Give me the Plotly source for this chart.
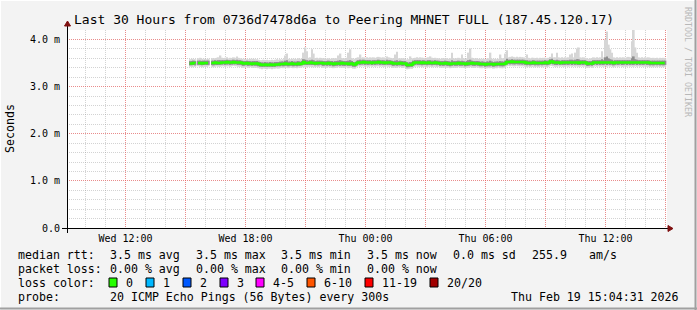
import plotly.graph_objects as go
import pandas as pd

# ---------------- data ----------------
TITLE = "Last 30 Hours from 0736d7478d6a to Peering MHNET FULL (187.45.120.17)"
range_start = "2026-02-18 09:04:31"
range_end = "2026-02-19 15:04:31"
first_sample = "2026-02-18 15:15:00"

median_ms = [
    3.49,3.49,3.50,3.49,None,3.50,3.50,3.49,3.50,3.50,
    3.50,3.50,None,3.50,3.50,3.51,3.50,3.50,3.50,3.51,
    3.51,3.51,3.52,3.51,3.51,3.51,3.52,3.51,3.51,3.51,
    3.51,3.50,3.49,3.49,3.50,3.49,3.49,3.48,3.49,3.49,
    3.49,3.48,3.47,3.46,3.46,3.47,3.46,3.46,3.47,3.46,
    3.46,3.47,3.47,3.47,3.48,3.48,3.48,3.49,3.48,3.48,
    3.48,3.49,3.48,3.48,3.48,3.49,3.48,3.49,3.52,3.50,
    3.50,3.50,3.51,3.50,3.50,3.49,3.50,3.50,3.50,3.50,
    3.49,3.49,3.49,3.50,3.49,3.49,3.48,3.49,3.49,3.49,
    3.49,3.50,3.49,3.49,3.49,3.48,3.49,3.49,3.47,3.47,
    3.50,3.51,3.51,3.51,3.52,3.51,3.51,3.51,3.51,3.50,
    3.51,3.51,3.51,3.52,3.51,3.51,3.51,3.50,3.51,3.51,
    3.51,3.50,3.49,3.49,3.49,3.49,3.50,3.49,3.49,3.49,
    3.46,3.46,3.46,3.47,3.50,3.51,3.51,3.51,3.51,3.50,
    3.51,3.50,3.50,3.51,3.50,3.50,3.50,3.51,3.50,3.50,
    3.49,3.49,3.49,3.50,3.49,3.49,3.48,3.49,3.49,3.49,
    3.49,3.50,3.49,3.49,3.49,3.48,3.49,3.49,3.49,3.50,
    3.49,3.49,3.49,3.49,3.48,3.48,3.48,3.47,3.48,3.48,
    3.48,3.48,3.47,3.48,3.48,3.48,3.48,3.48,3.48,3.49,
    3.52,3.52,3.52,3.53,3.52,3.52,3.52,3.52,3.52,3.52,
    3.52,3.51,3.50,3.50,3.50,3.50,3.51,3.50,3.50,3.50,
    3.50,3.50,3.50,3.51,3.50,3.50,3.53,3.53,3.51,3.51,
    3.51,3.51,3.50,3.51,3.51,3.51,3.51,3.51,3.51,3.51,
    3.51,3.51,3.51,3.50,3.51,3.51,3.51,3.51,3.49,3.49,
    3.49,3.49,3.51,3.51,3.51,3.51,3.51,3.51,3.51,3.51,
    3.51,3.51,3.51,3.51,3.50,3.51,3.51,3.51,3.51,3.51,
    3.51,3.51,3.51,3.51,3.51,3.51,3.51,3.51,3.51,3.51,
    3.51,3.51,3.51,3.51,3.51,3.51,3.50,3.50,3.50,3.50,
    3.50,3.50,3.50,3.50,3.50,3.50,
]

smoke_max_ms = [
    3.58,3.59,3.58,3.58,None,3.60,3.61,3.59,3.58,3.59,
    3.58,3.59,None,3.60,3.59,3.60,3.61,3.62,3.66,3.61,
    3.60,3.61,3.62,3.60,3.61,3.60,3.62,3.61,3.64,3.61,
    3.60,3.59,3.58,3.59,3.58,3.58,3.59,3.58,3.59,3.58,
    3.58,3.57,3.56,3.56,3.57,3.56,3.57,3.56,3.56,3.57,
    3.56,3.57,3.58,3.57,3.58,3.57,3.58,3.66,3.70,3.59,
    3.58,3.59,3.58,3.59,3.58,3.60,3.59,3.60,3.72,3.83,
    3.75,3.61,3.62,3.79,3.70,3.60,3.61,3.60,3.61,3.60,
    3.59,3.60,3.59,3.60,3.59,3.60,3.59,3.60,3.60,3.66,
    3.70,3.60,3.59,3.60,3.61,3.72,3.79,3.60,3.58,3.59,
    3.61,3.62,3.68,3.61,3.62,3.61,3.62,3.61,3.62,3.61,
    3.62,3.61,3.62,3.63,3.62,3.61,3.62,3.61,3.64,3.62,
    3.61,3.60,3.59,3.68,3.74,3.60,3.60,3.59,3.60,3.59,
    3.57,3.58,3.64,3.58,3.60,3.61,3.62,3.61,3.62,3.61,
    3.61,3.60,3.61,3.62,3.64,3.61,3.60,3.61,3.60,3.60,
    3.59,3.60,3.59,3.60,3.60,3.59,3.60,3.72,3.60,3.59,
    3.60,3.61,3.60,3.68,3.60,3.59,3.60,3.72,3.81,3.61,
    3.60,3.59,3.60,3.59,3.59,3.58,3.59,3.58,3.59,3.60,
    3.72,3.59,3.58,3.59,3.58,3.59,3.68,3.59,3.60,3.70,
    3.77,3.62,3.63,3.64,3.63,3.62,3.63,3.62,3.63,3.62,
    3.62,3.61,3.68,3.61,3.60,3.61,3.61,3.60,3.61,3.60,
    3.61,3.60,3.61,3.61,3.60,3.61,3.63,3.70,3.62,3.62,
    3.72,3.62,3.61,3.62,3.61,3.62,3.61,3.62,3.68,3.70,
    3.62,3.72,3.81,3.83,3.62,3.61,3.62,3.61,3.60,3.59,
    3.60,3.60,3.62,3.61,3.62,3.61,3.62,3.75,3.62,4.00,
    4.17,3.89,3.79,3.72,3.62,3.61,3.62,3.61,3.62,3.61,
    3.62,3.61,3.62,3.63,3.62,3.96,4.21,3.83,3.72,3.62,
    3.61,3.62,3.61,3.62,3.61,3.62,3.61,3.60,3.61,3.60,
    3.61,3.60,3.61,3.60,3.61,3.60,
]

smoke_min_ms = [
    3.42,3.41,3.42,3.42,None,3.43,3.42,3.41,3.42,3.42,
    3.42,3.43,None,3.42,3.41,3.42,3.43,3.42,3.42,3.43,
    3.43,3.42,3.43,3.43,3.42,3.43,3.44,3.43,3.43,3.42,
    3.42,3.41,3.40,3.41,3.41,3.40,3.41,3.40,3.41,3.40,
    3.40,3.39,3.38,3.37,3.38,3.38,3.37,3.38,3.38,3.37,
    3.38,3.38,3.39,3.38,3.39,3.40,3.39,3.40,3.40,3.39,
    3.40,3.40,3.39,3.40,3.39,3.40,3.40,3.41,3.42,3.41,
    3.41,3.42,3.42,3.41,3.42,3.41,3.42,3.41,3.42,3.41,
    3.40,3.41,3.40,3.41,3.40,3.41,3.39,3.40,3.40,3.41,
    3.40,3.41,3.40,3.40,3.41,3.39,3.40,3.40,3.38,3.38,
    3.42,3.43,3.42,3.43,3.43,3.42,3.43,3.42,3.43,3.42,
    3.43,3.42,3.43,3.43,3.42,3.43,3.42,3.42,3.43,3.42,
    3.42,3.41,3.40,3.41,3.40,3.41,3.41,3.40,3.40,3.41,
    3.37,3.37,3.38,3.38,3.41,3.42,3.43,3.42,3.42,3.41,
    3.42,3.42,3.41,3.42,3.42,3.41,3.42,3.42,3.41,3.42,
    3.40,3.41,3.40,3.41,3.40,3.40,3.39,3.40,3.41,3.40,
    3.40,3.41,3.40,3.40,3.41,3.39,3.40,3.40,3.41,3.41,
    3.40,3.40,3.41,3.40,3.39,3.39,3.40,3.38,3.39,3.39,
    3.39,3.40,3.38,3.39,3.39,3.40,3.39,3.39,3.39,3.41,
    3.43,3.44,3.43,3.44,3.43,3.43,3.44,3.43,3.43,3.43,
    3.43,3.42,3.41,3.42,3.41,3.42,3.42,3.41,3.42,3.41,
    3.42,3.41,3.42,3.42,3.41,3.42,3.44,3.44,3.43,3.42,
    3.42,3.43,3.42,3.43,3.42,3.42,3.43,3.42,3.43,3.42,
    3.43,3.42,3.43,3.42,3.42,3.43,3.42,3.43,3.40,3.40,
    3.41,3.40,3.42,3.43,3.42,3.43,3.42,3.43,3.42,3.43,
    3.42,3.43,3.42,3.43,3.41,3.42,3.43,3.42,3.43,3.42,
    3.42,3.43,3.42,3.43,3.42,3.43,3.42,3.43,3.42,3.43,
    3.42,3.43,3.42,3.43,3.42,3.42,3.41,3.42,3.41,3.42,
    3.41,3.42,3.41,3.42,3.41,3.42,
]

core_hi_ms = [
    3.54,3.54,3.55,3.54,None,3.55,3.55,3.54,3.55,3.55,
    3.55,3.55,None,3.55,3.55,3.56,3.55,3.56,3.56,3.56,
    3.56,3.56,3.57,3.56,3.56,3.56,3.57,3.56,3.57,3.56,
    3.56,3.55,3.54,3.54,3.55,3.54,3.54,3.53,3.54,3.54,
    3.54,3.53,3.52,3.51,3.51,3.52,3.51,3.51,3.52,3.51,
    3.51,3.52,3.52,3.52,3.53,3.53,3.53,3.55,3.56,3.53,
    3.53,3.54,3.53,3.53,3.53,3.54,3.53,3.54,3.58,3.57,
    3.56,3.55,3.56,3.57,3.56,3.54,3.55,3.55,3.55,3.55,
    3.54,3.54,3.54,3.55,3.54,3.54,3.53,3.54,3.54,3.55,
    3.56,3.55,3.54,3.54,3.54,3.55,3.56,3.54,3.52,3.52,
    3.55,3.56,3.57,3.56,3.57,3.56,3.56,3.56,3.56,3.55,
    3.56,3.56,3.56,3.57,3.56,3.56,3.56,3.55,3.57,3.56,
    3.56,3.55,3.54,3.55,3.56,3.54,3.55,3.54,3.54,3.54,
    3.51,3.51,3.52,3.52,3.55,3.56,3.56,3.56,3.56,3.55,
    3.56,3.55,3.55,3.56,3.56,3.55,3.55,3.56,3.55,3.55,
    3.54,3.54,3.54,3.55,3.54,3.54,3.53,3.56,3.54,3.54,
    3.54,3.55,3.54,3.55,3.54,3.53,3.54,3.56,3.57,3.55,
    3.54,3.54,3.54,3.54,3.53,3.53,3.53,3.52,3.53,3.53,
    3.55,3.53,3.52,3.53,3.53,3.53,3.54,3.53,3.53,3.55,
    3.59,3.57,3.57,3.58,3.57,3.57,3.57,3.57,3.57,3.57,
    3.57,3.56,3.56,3.55,3.55,3.55,3.56,3.55,3.55,3.55,
    3.55,3.55,3.55,3.56,3.55,3.55,3.58,3.59,3.56,3.56,
    3.57,3.56,3.55,3.56,3.56,3.56,3.56,3.56,3.57,3.57,
    3.56,3.57,3.58,3.58,3.56,3.56,3.56,3.56,3.54,3.54,
    3.54,3.54,3.56,3.56,3.56,3.56,3.56,3.58,3.56,3.62,
    3.64,3.60,3.58,3.57,3.55,3.56,3.56,3.56,3.56,3.56,
    3.56,3.56,3.56,3.56,3.56,3.60,3.64,3.58,3.57,3.56,
    3.56,3.56,3.56,3.56,3.56,3.56,3.55,3.55,3.55,3.55,
    3.55,3.55,3.55,3.55,3.55,3.55,
]

core_lo_ms = [
    3.45,3.45,3.46,3.45,None,3.46,3.46,3.45,3.46,3.46,
    3.46,3.46,None,3.46,3.45,3.46,3.46,3.46,3.46,3.47,
    3.47,3.46,3.47,3.47,3.46,3.47,3.47,3.47,3.47,3.46,
    3.46,3.45,3.44,3.45,3.45,3.44,3.45,3.44,3.45,3.44,
    3.44,3.43,3.42,3.42,3.42,3.42,3.42,3.42,3.42,3.42,
    3.42,3.42,3.43,3.43,3.43,3.44,3.43,3.44,3.44,3.43,
    3.44,3.44,3.43,3.44,3.43,3.44,3.44,3.45,3.47,3.46,
    3.46,3.46,3.46,3.46,3.46,3.45,3.46,3.45,3.46,3.45,
    3.44,3.45,3.44,3.45,3.44,3.45,3.43,3.44,3.44,3.45,
    3.44,3.45,3.44,3.44,3.45,3.44,3.44,3.44,3.42,3.42,
    3.46,3.47,3.46,3.47,3.47,3.46,3.47,3.46,3.47,3.46,
    3.47,3.46,3.47,3.47,3.46,3.47,3.46,3.46,3.47,3.46,
    3.46,3.45,3.44,3.45,3.44,3.45,3.45,3.44,3.44,3.45,
    3.41,3.41,3.42,3.42,3.45,3.46,3.47,3.46,3.46,3.45,
    3.46,3.46,3.45,3.46,3.46,3.45,3.46,3.46,3.45,3.46,
    3.44,3.45,3.44,3.45,3.44,3.44,3.43,3.44,3.45,3.44,
    3.44,3.45,3.44,3.44,3.45,3.43,3.44,3.44,3.45,3.45,
    3.44,3.44,3.45,3.44,3.43,3.43,3.44,3.42,3.43,3.43,
    3.43,3.44,3.42,3.43,3.43,3.44,3.43,3.43,3.43,3.45,
    3.47,3.48,3.47,3.48,3.47,3.47,3.48,3.47,3.47,3.47,
    3.47,3.46,3.45,3.46,3.45,3.46,3.46,3.45,3.46,3.45,
    3.46,3.45,3.46,3.46,3.45,3.46,3.48,3.48,3.47,3.46,
    3.46,3.47,3.46,3.47,3.46,3.46,3.47,3.46,3.47,3.46,
    3.47,3.46,3.47,3.46,3.46,3.47,3.46,3.47,3.44,3.44,
    3.45,3.44,3.46,3.47,3.46,3.47,3.46,3.47,3.46,3.47,
    3.46,3.47,3.46,3.47,3.45,3.46,3.47,3.46,3.47,3.46,
    3.46,3.47,3.46,3.47,3.46,3.47,3.46,3.47,3.46,3.47,
    3.46,3.47,3.46,3.47,3.46,3.46,3.45,3.46,3.45,3.46,
    3.45,3.46,3.45,3.46,3.45,3.46,
]

y_tick_vals = [0, 1, 2, 3, 4]
y_tick_text = ["0.0", "1.0 m", "2.0 m", "3.0 m", "4.0 m"]
x_tick_vals = ["2026-02-18 12:00", "2026-02-18 15:00", "2026-02-18 18:00", "2026-02-18 21:00",
               "2026-02-19 00:00", "2026-02-19 03:00", "2026-02-19 06:00", "2026-02-19 09:00",
               "2026-02-19 12:00", "2026-02-19 15:00"]
x_tick_text = ["Wed 12:00", "", "Wed 18:00", "", "Thu 00:00", "", "Thu 06:00", "", "Thu 12:00", ""]

loss_labels = ["0", "1", "2", "3", "4-5", "6-10", "11-19", "20/20"]
loss_colors = ["#26ff00", "#00b8ff", "#0059ff", "#7e00ff", "#ff00ff", "#ff5500", "#ff0000", "#a10000"]

stats_rtt = ["3.5 ms avg", "3.5 ms max", "3.5 ms min", "3.5 ms now", "0.0 ms sd", "255.9", "am/s"]
stats_loss = ["0.00 % avg", "0.00 % max", "0.00 % min", "0.00 % now"]
probe_text = "20 ICMP Echo Pings (56 Bytes) every 300s"
stamp_text = "Thu Feb 19 15:04:31 2026"

# ---------------- geometry ----------------
FIG_W, FIG_H = 697, 310
L, R_PX, T, B = 67, 667, 30, 228
PW, PH = R_PX - L, B - T
MONO = "DejaVu Sans Mono"


def ax(px):
    return (px - L) / PW


def ay(py):
    return (B - py) / PH


times = pd.date_range(first_sample, periods=len(median_ms), freq="5min")
x_bar = times
x_line = times - pd.Timedelta(seconds=150)


def band(lo, hi):
    base, height = [], []
    for a, b in zip(lo, hi):
        if a is None or b is None:
            base.append(None)
            height.append(None)
        else:
            base.append(a)
            height.append(b - a)
    return base, height


fig = go.Figure()
b1, h1 = band(smoke_min_ms, smoke_max_ms)
fig.add_trace(go.Bar(x=x_bar, y=h1, base=b1, width=300000, marker=dict(color="#d6d6d6", line=dict(width=0)),
                     hoverinfo="skip"))
b2, h2 = band(core_lo_ms, core_hi_ms)
fig.add_trace(go.Bar(x=x_bar, y=h2, base=b2, width=300000, marker=dict(color="#8e8e8e", line=dict(width=0)),
                     hoverinfo="skip"))
fig.add_trace(go.Scatter(x=x_line, y=median_ms, mode="lines", line=dict(color="#26ff00", width=2.5, shape="hv"),
                         connectgaps=False, hoverinfo="skip"))

grid_minor = "rgba(150,150,150,0.42)"
grid_major = "rgba(255,70,70,0.5)"

fig.update_xaxes(
    type="date", range=[range_start, range_end],
    tickvals=x_tick_vals, ticktext=x_tick_text,
    showgrid=True, gridcolor=grid_major, griddash="1px,1px", gridwidth=1,
    minor=dict(dtick=3600000, tick0="2026-02-18 00:00", showgrid=True, gridcolor=grid_minor,
               griddash="1px,1px", gridwidth=1),
    ticks="", showline=False, zeroline=False,
    tickfont=dict(family=MONO, size=10, color="#000000"),
    ticklabelstandoff=3,
)
fig.update_yaxes(
    range=[0, 4.2], tickvals=y_tick_vals, ticktext=y_tick_text,
    showgrid=True, gridcolor=grid_major, griddash="1px,1px", gridwidth=1,
    minor=dict(dtick=0.2, tick0=0, showgrid=True, gridcolor=grid_minor, griddash="1px,1px", gridwidth=1),
    ticks="", showline=False, zeroline=False,
    tickfont=dict(family=MONO, size=10, color="#000000"),
    ticklabelstandoff=6,
)

shapes = []
# frame
shapes.append(dict(type="line", xref="paper", yref="paper", x0=ax(0), x1=ax(697), y0=ay(0.5), y1=ay(0.5),
                   line=dict(color="#ffffff", width=1)))
shapes.append(dict(type="line", xref="paper", yref="paper", x0=ax(0.5), x1=ax(0.5), y0=ay(0), y1=ay(310),
                   line=dict(color="#ffffff", width=1)))
shapes.append(dict(type="line", xref="paper", yref="paper", x0=ax(0), x1=ax(697), y0=ay(308.5), y1=ay(308.5),
                   line=dict(color="#a0a0a0", width=2)))
shapes.append(dict(type="line", xref="paper", yref="paper", x0=ax(695.5), x1=ax(695.5), y0=ay(0), y1=ay(310),
                   line=dict(color="#a0a0a0", width=2)))
# axes
shapes.append(dict(type="line", xref="paper", yref="paper", x0=ax(62), x1=ax(669), y0=ay(228.5), y1=ay(228.5),
                   line=dict(color="#000000", width=1)))
shapes.append(dict(type="line", xref="paper", yref="paper", x0=ax(67.5), x1=ax(67.5), y0=ay(233), y1=ay(25),
                   line=dict(color="#000000", width=1)))
# arrows
shapes.append(dict(type="path", xref="paper", yref="paper",
                   path="M {} {} L {} {} L {} {} Z".format(ax(668), ay(225.5), ax(673), ay(228.5), ax(668), ay(231.5)),
                   fillcolor="#7f1010", line=dict(color="#7f1010", width=1)))
shapes.append(dict(type="path", xref="paper", yref="paper",
                   path="M {} {} L {} {} L {} {} Z".format(ax(64.5), ay(26), ax(67.5), ay(21), ax(70.5), ay(26)),
                   fillcolor="#7f1010", line=dict(color="#7f1010", width=1)))

annotations = []


def txt(px, py, s, size=11.6, anchor="left", color="#000000", angle=0):
    annotations.append(dict(xref="paper", yref="paper", x=ax(px), y=ay(py), text=s, showarrow=False,
                            xanchor=anchor, yanchor="middle", textangle=angle,
                            font=dict(family=MONO, size=size, color=color)))


txt(72, 19.5, TITLE, size=13)
txt(10, 129, "Seconds", size=11.6, anchor="center", angle=-90)
txt(688, 62, "RRDTOOL / TOBI OETIKER", size=8.3, anchor="center", color="#b8b8b8", angle=90)

row_y = [254.5, 268.5, 282.5, 296.5]
txt(16, row_y[0], "median rtt:")
for s, px in zip(stats_rtt, [107.5, 193.5, 279, 365, 451, 530, 587]):
    txt(px, row_y[0], s)
txt(16, row_y[1], "packet loss:")
for s, px in zip(stats_loss, [107.5, 193.5, 279, 365]):
    txt(px, row_y[1], s)
txt(16, row_y[2], "loss color:")
box_x = [109, 146, 183, 220, 256, 307, 365, 430]
for lab, col, bx in zip(loss_labels, loss_colors, box_x):
    shapes.append(dict(type="rect", xref="paper", yref="paper", x0=ax(bx), x1=ax(bx + 8),
                       y0=ay(row_y[2] - 4.5), y1=ay(row_y[2] + 4.5),
                       fillcolor=col, line=dict(color="#000000", width=1)))
    txt(bx + 14.5, row_y[2], lab)
txt(16, row_y[3], "probe:")
txt(107.5, row_y[3], probe_text)
txt(681, row_y[3], stamp_text, anchor="right")

fig.update_layout(
    width=FIG_W, height=FIG_H, autosize=False,
    margin=dict(l=L, r=FIG_W - R_PX, t=T, b=FIG_H - B),
    paper_bgcolor="#f3f3f3", plot_bgcolor="#ffffff",
    barmode="overlay", showlegend=False,
    shapes=shapes, annotations=annotations,
    font=dict(family=MONO),
)

fig.write_html("out.html")
